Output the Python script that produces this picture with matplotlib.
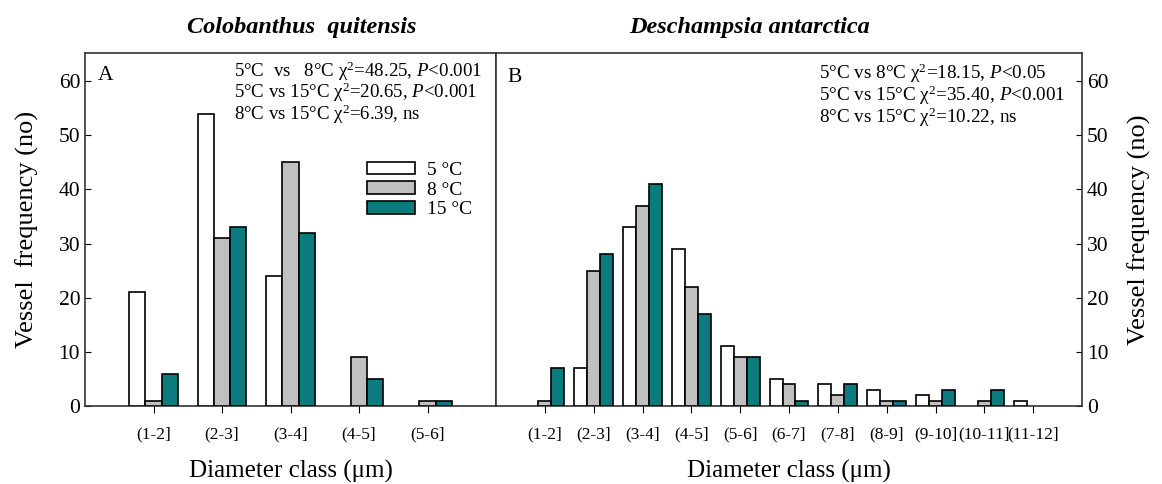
import numpy as np
import matplotlib
matplotlib.use("Agg")
import matplotlib.pyplot as plt
from matplotlib.patches import Patch

plt.rcParams['font.family'] = ['Liberation Serif', 'DejaVu Serif']
plt.rcParams['mathtext.fontset'] = 'custom'
plt.rcParams['mathtext.rm'] = 'Liberation Serif'
plt.rcParams['mathtext.it'] = 'Liberation Serif:italic'

# data
classes_a = ['(1-2]', '(2-3]', '(3-4]', '(4-5]', '(5-6]']
col_5 = [21, 54, 24, 0, 0]
col_8 = [1, 31, 45, 9, 1]
col_15 = [6, 33, 32, 5, 1]

classes_b = ['(1-2]', '(2-3]', '(3-4]', '(4-5]', '(5-6]', '(6-7]', '(7-8]',
             '(8-9]', '(9-10]', '(10-11]', '(11-12]']
des_5 = [0, 7, 33, 29, 11, 5, 4, 3, 2, 0, 1]
des_8 = [1, 25, 37, 22, 9, 4, 2, 1, 1, 1, 0]
des_15 = [7, 28, 41, 17, 9, 1, 4, 1, 3, 3, 0]

temps = ['5 °C', '8 °C', '15 °C']
colors = ['white', '#c0c0c0', '#0b7b7d']

stats_a = [r'5°C  vs   8°C $\mathrm{\chi}^2$=48.25, $P$<0.001',
           r'5°C vs 15°C $\mathrm{\chi}^2$=20.65, $P$<0.001',
           r'8°C vs 15°C $\mathrm{\chi}^2$=6.39, ns']
stats_b = [r'5°C vs 8°C $\mathrm{\chi}^2$=18.15, $P$<0.05',
           r'5°C vs 15°C $\mathrm{\chi}^2$=35.40, $P$<0.001',
           r'8°C vs 15°C $\mathrm{\chi}^2$=10.22, ns']

fig = plt.figure(figsize=(11.62, 4.84), dpi=100)
W, H = 1162, 484
axA = fig.add_axes([85 / W, 1 - 406 / H, (496 - 85) / W, (406 - 53) / H])
axB = fig.add_axes([496 / W, 1 - 406 / H, (1082 - 496) / W, (406 - 53) / H])


def draw(ax, labels, series, width):
    x = np.arange(1, len(labels) + 1)
    for k, (vals, c) in enumerate(zip(series, colors)):
        vals = np.array(vals)
        keep = vals > 0
        ax.bar(x[keep] + (k - 1) * width, vals[keep], width, color=c,
               edgecolor='black', linewidth=1.2, zorder=3)
    ax.set_xticks(x)
    ax.set_xticklabels(labels, fontsize=12.5)
    ax.set_xlim(0, len(labels) + 1)
    ax.set_ylim(0, 65.2)
    ax.set_yticks(range(0, 61, 10))
    ax.tick_params(axis='y', direction='in', length=4, labelsize=15.5)
    ax.tick_params(axis='x', direction='out', length=5, pad=10)
    for s in ax.spines.values():
        s.set_linewidth(1.2)
        s.set_color('#333333')


draw(axA, classes_a, [col_5, col_8, col_15], 0.234)
draw(axB, classes_b, [des_5, des_8, des_15], 0.265)
axB.yaxis.tick_right()
axB.yaxis.set_label_position('right')

axA.set_ylabel('Vessel  frequency (no)', fontsize=19, labelpad=14)
axB.set_ylabel('Vessel frequency (no)', fontsize=19, labelpad=14)
axA.set_xlabel('Diameter class (μm)', fontsize=18, labelpad=12)
axB.set_xlabel('Diameter class (μm)', fontsize=18, labelpad=12)

axA.text(0.032, 0.937, 'A', transform=axA.transAxes, fontsize=15.5, va='center')
axB.text(0.019, 0.93, 'B', transform=axB.transAxes, fontsize=15.5, va='center')

for i, s in enumerate(stats_a):
    axA.text(0.3625, 0.949 - i * 0.061, s, transform=axA.transAxes,
             fontsize=13.6, va='center')
for i, s in enumerate(stats_b):
    axB.text(0.551, 0.943 - i * 0.062, s, transform=axB.transAxes,
             fontsize=13.8, va='center')

handles = [Patch(facecolor=c, edgecolor='black', linewidth=1.2) for c in colors]
axA.legend(handles, temps, loc='upper left', bbox_to_anchor=(0.686, 0.692),
           frameon=False, fontsize=14, handlelength=2.45, handleheight=0.6,
           labelspacing=0.14, handletextpad=0.65, borderpad=0,
           borderaxespad=0)

fig.text(302 / W, 1 - 27 / H, 'Colobanthus  quitensis', fontsize=17.5,
         fontweight='bold', style='italic', ha='center', va='center')
fig.text(750 / W, 1 - 27 / H, 'Deschampsia antarctica', fontsize=17.5,
         fontweight='bold', style='italic', ha='center', va='center')

fig.savefig('out.png', dpi=100)
